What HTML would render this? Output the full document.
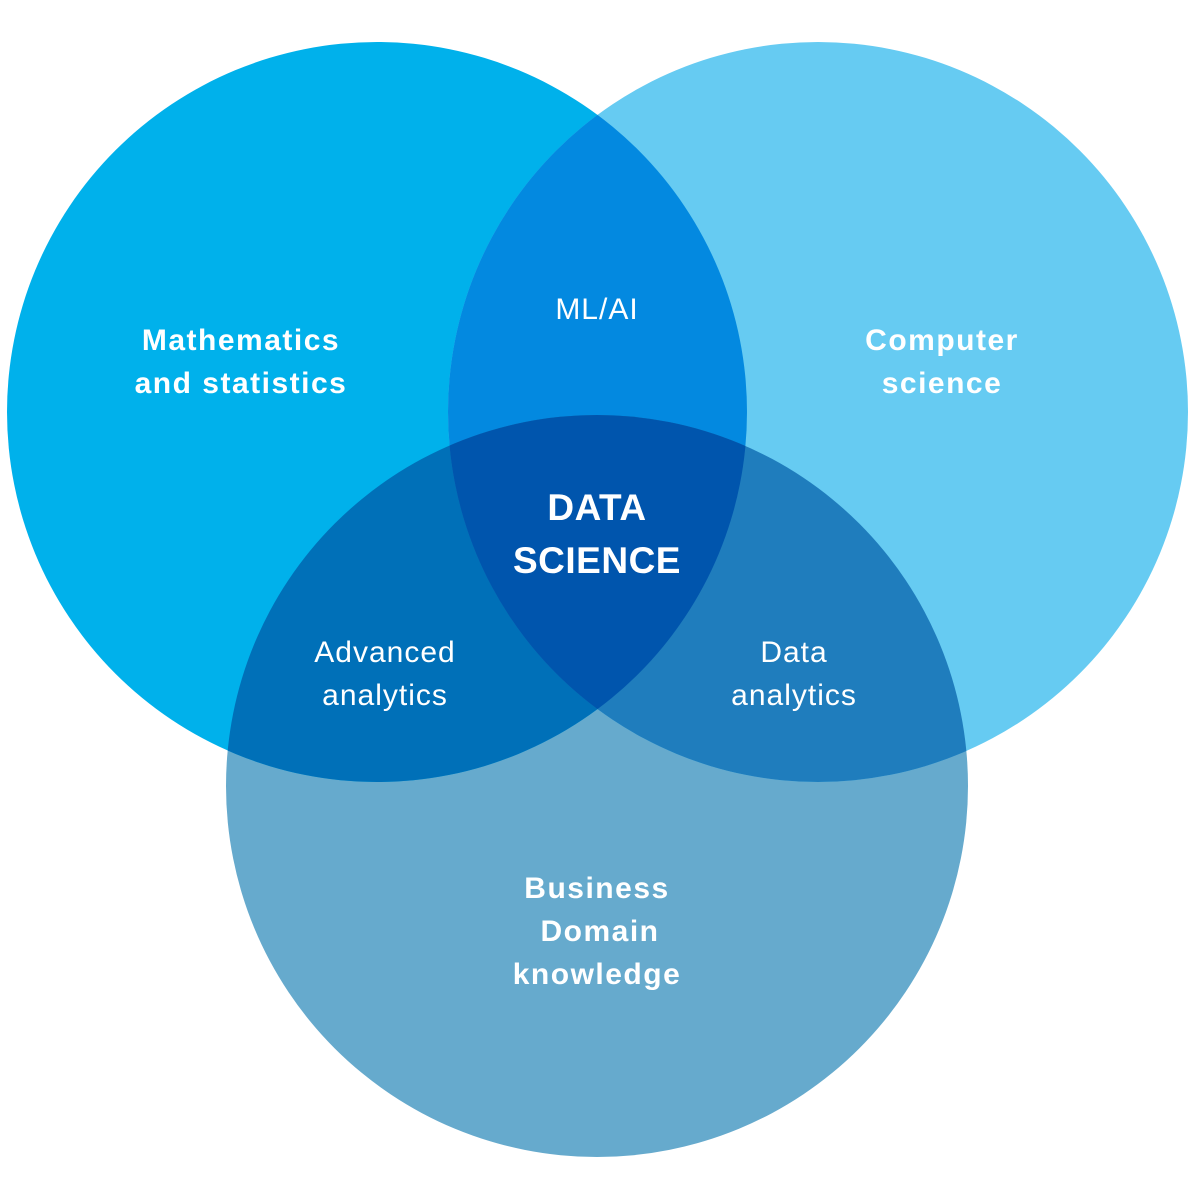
<!DOCTYPE html>
<html><head><style>
html,body{margin:0;padding:0;background:#fff;}
svg{display:block;}
text{font-family:"Liberation Sans",sans-serif;fill:#fff;text-anchor:middle;}
.b{font-weight:bold;font-size:30px;letter-spacing:1.5px;}
.r{font-size:30px;letter-spacing:1px;}
.c{font-weight:bold;font-size:37px;letter-spacing:0.5px;}
</style></head><body>
<svg width="1199" height="1199" viewBox="0 0 1199 1199" xmlns="http://www.w3.org/2000/svg">
<defs>
<clipPath id="L"><circle cx="377" cy="412" r="370"/></clipPath>
<clipPath id="R"><circle cx="818" cy="412" r="370"/></clipPath>
<clipPath id="B"><circle cx="597" cy="786" r="371"/></clipPath>
</defs>
<rect width="1199" height="1199" fill="#fff"/>
<circle cx="597" cy="786" r="371" fill="#66aacd"/>
<circle cx="377" cy="412" r="370" fill="#00b1eb"/>
<circle cx="818" cy="412" r="370" fill="#66cbf2"/>
<circle cx="818" cy="412" r="370" fill="#0389e0" clip-path="url(#L)"/>
<g clip-path="url(#B)">
<circle cx="377" cy="412" r="370" fill="#0070b8"/>
<circle cx="818" cy="412" r="370" fill="#1f7dbd"/>
<g clip-path="url(#L)"><circle cx="818" cy="412" r="370" fill="#0055ad"/></g>
</g>
<text class="b" x="241" y="350">Mathematics</text>
<text class="b" x="241" y="393">and statistics</text>
<text class="b" x="942" y="350">Computer</text>
<text class="b" x="942" y="393">science</text>
<text class="r" x="597" y="319">ML/AI</text>
<text class="c" x="597" y="520">DATA</text>
<text class="c" x="597" y="573">SCIENCE</text>
<text class="r" x="385" y="662">Advanced</text>
<text class="r" x="385" y="705">analytics</text>
<text class="r" x="794" y="662">Data</text>
<text class="r" x="794" y="705">analytics</text>
<text class="b" x="597" y="898">Business</text>
<text class="b" x="600" y="941">Domain</text>
<text class="b" x="597" y="984">knowledge</text>
</svg>
</body></html>
